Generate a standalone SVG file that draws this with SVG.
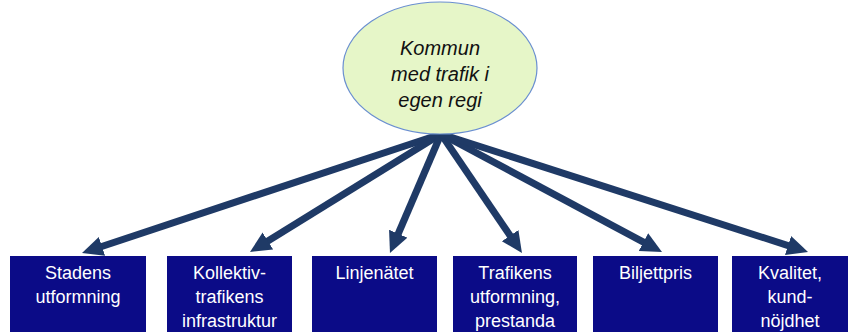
<svg xmlns="http://www.w3.org/2000/svg" width="852" height="334" viewBox="0 0 852 334">
<style>
.box{fill:#0b0b87;}
.bt{font-family:"Liberation Sans",Arial,sans-serif;font-size:18px;fill:#ffffff;text-anchor:middle;}
.et{font-family:"Liberation Sans",Arial,sans-serif;font-size:20px;font-style:italic;fill:#111111;text-anchor:middle;}
.conn line{stroke:#1f3a66;stroke-width:7;marker-end:url(#ah);}
</style>
<defs>
<marker id="ah" markerUnits="userSpaceOnUse" markerWidth="24" markerHeight="22" refX="9" refY="10" orient="auto">
<path d="M0,0 L21,10 L0,20 Z" fill="#1f3a66"/>
</marker>
</defs>
<rect width="852" height="334" fill="#ffffff"/>
<g id="connectors" class="conn">
<line x1="441" y1="134" x2="93.4" y2="249.2"/>
<line x1="441" y1="134" x2="260.2" y2="245.7"/>
<line x1="441" y1="134" x2="394.7" y2="242.0"/>
<line x1="441" y1="134" x2="515.2" y2="243.1"/>
<line x1="441" y1="134" x2="651.4" y2="246.3"/>
<line x1="441" y1="134" x2="796.6" y2="248.3"/>
</g>
<g id="kommun">
<ellipse cx="440" cy="68" rx="97" ry="66" fill="#e6f6c8" stroke="#6a8fd0" stroke-width="1.2"/>
<text class="et" x="440" y="55">Kommun</text>
<text class="et" x="440" y="81">med trafik i</text>
<text class="et" x="440" y="107">egen regi</text>
</g>
<g id="stadens">
<rect class="box" x="10" y="256" width="136" height="76"/>
<text class="bt" x="78" y="279">Stadens</text>
<text class="bt" x="78" y="303">utformning</text>
</g>
<g id="kollektiv">
<rect class="box" x="167" y="256" width="125" height="76"/>
<text class="bt" x="229.5" y="279">Kollektiv-</text>
<text class="bt" x="229.5" y="303">trafikens</text>
<text class="bt" x="229.5" y="327">infrastruktur</text>
</g>
<g id="linjenatet">
<rect class="box" x="312" y="256" width="125" height="76"/>
<text class="bt" x="374.5" y="279">Linjenätet</text>
</g>
<g id="trafikens">
<rect class="box" x="453" y="256" width="124" height="76"/>
<text class="bt" x="515" y="279">Trafikens</text>
<text class="bt" x="515" y="303">utformning,</text>
<text class="bt" x="515" y="327">prestanda</text>
</g>
<g id="biljettpris">
<rect class="box" x="593" y="256" width="125" height="76"/>
<text class="bt" x="655.5" y="279">Biljettpris</text>
</g>
<g id="kvalitet">
<rect class="box" x="732" y="256" width="116" height="76"/>
<text class="bt" x="790" y="279">Kvalitet,</text>
<text class="bt" x="790" y="303">kund-</text>
<text class="bt" x="790" y="327">nöjdhet</text>
</g>
</svg>
